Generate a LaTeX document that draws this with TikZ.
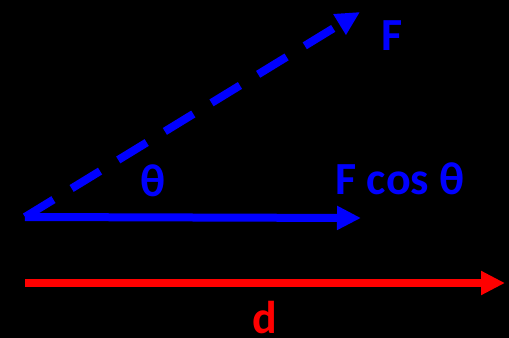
\documentclass[tikz,border=0pt]{standalone}
\usepackage{fontspec}
\setmainfont{Carlito}
\usepackage{tikz}
\usetikzlibrary{arrows.meta}
\usetikzlibrary{positioning}

\begin{document}
\begin{tikzpicture}[
        x=0.75pt, y=-0.75pt,
        font=\bfseries\fontsize{34.5}{38}\selectfont,
        % style for the vectors
        vec/.style={line width=6pt, -{Triangle[length=18pt, width=17pt]}},
        % style for the labels
        lbl/.style={inner sep=0pt, anchor=center}
    ]

    % background
    \fill[black] (0,0) rectangle (509,338);
    \useasboundingbox (0,0) rectangle (509,338);

    % --- points ---
    \coordinate (O) at (25,217);
    \coordinate (Ftip) at (360,12);
    \coordinate (Ctip) at (361,218);
    \coordinate (D0) at (25,283);
    \coordinate (Dtip) at (505,283);

    % --- vectors ---
    \draw[vec, blue, dash pattern=on 25pt off 16pt] (O) -- (Ftip);
    \draw[vec, blue] (O) -- (Ctip);
    \draw[vec, red] (D0) -- (Dtip);

    % --- labels ---
    \node[lbl, text=blue] (F) at (392,36) {F};
    \node[lbl, text=blue] (theta) at (153,181) {θ};
    \node[lbl, text=blue] (Fcos) at (400,179) {F cos θ};
    \node[lbl, text=red] (d) at (265,318) {d};

\end{tikzpicture}
\end{document}
